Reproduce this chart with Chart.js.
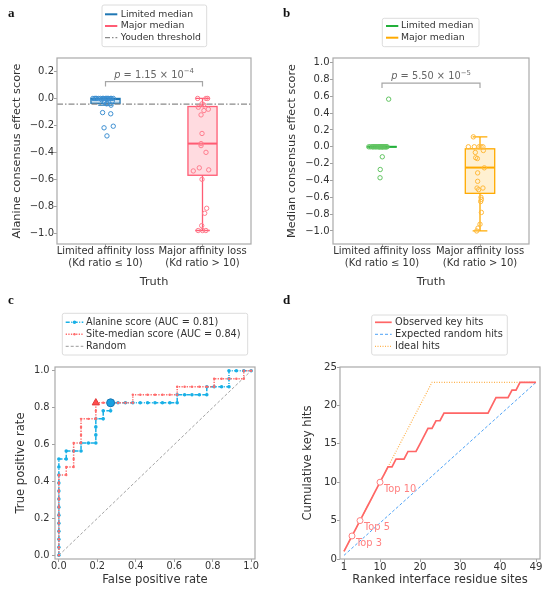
<!DOCTYPE html>
<html lang="en">
<head>
<meta charset="UTF-8">
<meta name="viewport" content="width=device-width, initial-scale=1.0">
<title>Consensus effect scores and key-site recovery</title>
<script src="https://cdn.jsdelivr.net/npm/chart.js@4.4.1/dist/chart.umd.min.js"></script>
<style>
  body { margin: 0; background: #fff; }
  #figure { position: relative; width: 550px; height: 596px; overflow: hidden; }
  #figure canvas { position: absolute; }
</style>
</head>
<body>
<div id="figure">
  <canvas id="panelA" width="275" height="298" style="left:0;top:0;width:275px;height:298px"></canvas>
  <canvas id="panelB" width="275" height="298" style="left:275px;top:0;width:275px;height:298px"></canvas>
  <canvas id="panelC" width="275" height="306" style="left:0;top:290px;width:275px;height:306px"></canvas>
  <canvas id="panelD" width="275" height="306" style="left:275px;top:290px;width:275px;height:306px"></canvas>
</div>
<script>
// ---------- data ----------
const groupLabels = [['Limited affinity loss', '(Kd ratio ≤ 10)'], ['Major affinity loss', '(Kd ratio > 10)']];

// a: alanine consensus effect score (jitter = horizontal offset of each dot)
const alaLimitedScore  = [0, 0, 0, 0, 0, 0, 0, 0, 0, 0, 0, 0, 0, 0, 0, -0.01, -0.02, -0.025, -0.035, -0.04, -0.05, -0.105, -0.114, -0.206, -0.218, -0.278];
const alaLimitedJitter = [-0.13, -0.11, -0.09, -0.07, -0.05, -0.03, -0.02, 0.0, 0.01, 0.02, 0.03, 0.05, 0.06, 0.08, -0.10, -0.04, 0.07, -0.012, 0.015, 0.012, 0.057, -0.03, 0.054, 0.08, -0.015, 0.015];
const alaMajorScore  = [0, 0, 0, -0.04, -0.048, -0.065, -0.08, -0.09, -0.122, -0.26, -0.335, -0.35, -0.40, -0.515, -0.53, -0.538, -0.60, -0.815, -0.852, -0.944, -0.98, -0.98, -0.98];
const alaMajorJitter = [-0.05, 0.036, 0.053, -0.005, 0.012, -0.043, 0.06, 0.015, -0.015, -0.005, -0.015, -0.015, 0.036, -0.033, 0.064, -0.095, -0.005, 0.043, 0.023, -0.008, -0.045, 0.0, 0.035];
// box stats: [lower whisker, q1, median, q3, upper whisker]
const alaLimitedBox = [-0.05, -0.036, -0.004, 0.0, 0.0];
const alaMajorBox   = [-0.98, -0.57, -0.335, -0.06, 0.0];
const youdenThreshold = -0.042;
const alaBracket = [0.088, 0.125];
const alaP = ['1.15', '−4'];
const alaTicks = [-1.0, -0.8, -0.6, -0.4, -0.2, 0.0, 0.2];

// b: median consensus effect score
const medLimitedScore  = [0, 0, 0, 0, 0, 0, 0, 0, 0, 0, 0, 0, 0, 0, 0, 0, 0, 0, 0, 0, 0, 0, 0.566, -0.119, -0.27, -0.368];
const medLimitedJitter = [-0.135, -0.118, -0.1, -0.092, -0.07, -0.061, -0.05, -0.038, -0.03, -0.02, -0.012, -0.004, 0.006, 0.012, 0.021, 0.03, 0.036, 0.044, 0.052, -0.082, -0.026, 0.002, 0.068, 0.003, -0.018, -0.02];
const medMajorScore  = [0.118, 0, 0, 0, 0, 0, -0.044, -0.067, -0.13, -0.14, -0.25, -0.31, -0.41, -0.49, -0.51, -0.49, -0.60, -0.625, -0.65, -0.78, -0.92, -0.966, -1.0];
const medMajorJitter = [-0.068, -0.119, -0.058, -0.01, 0.01, 0.03, 0.034, -0.048, -0.044, -0.027, 0.044, -0.024, -0.024, -0.03, -0.014, 0.03, 0.01, 0.014, 0.007, 0.014, 0.0, -0.02, -0.034];
const medLimitedBox = [0, 0, 0, 0, 0];
const medMajorBox   = [-1.0, -0.553, -0.247, -0.024, 0.118];
const medBracket = [0.698, 0.756];
const medP = ['5.50', '−5'];
const medTicks = [-1.0, -0.8, -0.6, -0.4, -0.2, 0.0, 0.2, 0.4, 0.6, 0.8, 1.0];

// c: ROC curves, as false-positive / true-positive counts at each threshold
const rocNegatives = 26, rocPositives = 23;
const alaFP = [0, 0, 0, 0, 0, 0, 0, 0, 0, 0, 0, 0, 0, 1, 1, 2, 3, 3, 4, 5, 5, 5, 5, 6, 6, 7, 7, 8, 9, 10, 11, 12, 13, 14, 15, 16, 16, 17, 18, 19, 20, 20, 21, 22, 23, 23, 23, 24, 25, 26];
const alaTP = [0, 1, 2, 3, 4, 5, 6, 7, 8, 9, 10, 11, 12, 12, 13, 13, 13, 14, 14, 14, 15, 16, 17, 17, 18, 18, 19, 19, 19, 19, 19, 19, 19, 19, 19, 19, 20, 20, 20, 20, 20, 21, 21, 21, 21, 22, 23, 23, 23, 23];
const siteFP = [0, 0, 0, 0, 0, 0, 0, 0, 0, 0, 0, 1, 1, 2, 2, 2, 2, 3, 3, 3, 3, 4, 5, 5, 5, 6, 7, 8, 9, 10, 10, 11, 12, 13, 14, 15, 16, 16, 17, 18, 19, 20, 21, 21, 22, 23, 24, 25, 25, 26];
const siteTP = [0, 1, 2, 3, 4, 5, 6, 7, 8, 9, 10, 10, 11, 11, 12, 13, 14, 14, 15, 16, 17, 17, 17, 18, 19, 19, 19, 19, 19, 19, 20, 20, 20, 20, 20, 20, 20, 21, 21, 21, 21, 21, 21, 22, 22, 22, 22, 22, 23, 23];
const alaYouden = [7, 19];   // fp, tp
const siteYouden = [5, 19];
const aucValues = [0.81, 0.84];
const randomLine = [[0, 0], [1, 1]];
const rocTicks = [0.0, 0.2, 0.4, 0.6, 0.8, 1.0];

// d: cumulative key hits over ranked interface residue sites
const ranks = [1, 2, 3, 4, 5, 6, 7, 8, 9, 10, 11, 12, 13, 14, 15, 16, 17, 18, 19, 20, 21, 22, 23, 24, 25, 26, 27, 28, 29, 30, 31, 32, 33, 34, 35, 36, 37, 38, 39, 40, 41, 42, 43, 44, 45, 46, 47, 48, 49];
const observedHits = [1, 2, 3, 4, 5, 6, 7, 8, 9, 10, 11, 12, 12, 13, 13, 13, 14, 14, 14, 15, 16, 17, 17, 18, 18, 19, 19, 19, 19, 19, 19, 19, 19, 19, 19, 19, 19, 20, 21, 21, 21, 21, 22, 22, 23, 23, 23, 23, 23];
const expectedLine = [[1, 0.47], [49, 23]];
const idealLine = [[1, 1], [23, 23], [49, 23]];
const topRanks = [3, 5, 10];
const rankTicks = [1, 10, 20, 30, 40, 49];
const hitTicks = [0, 5, 10, 15, 20, 25];

// ---------- colours ----------
const FONT = "'DejaVu Sans', 'Liberation Sans', sans-serif";
const blueEdge = '#1f77b4', blueDot = '#3d8fd1';
const redEdge = '#ff5c74', redDot = '#ff7d8e';
const greenEdge = '#22b03a', greenDot = '#62c462';
const orangeEdge = '#ffaa00', orangeDot = '#ffb93a';
const rocBlue = '#19b0e6', rocRed = '#ff6b6b';
const hitRed = '#ff6666', hitBlue = '#4ea2f5', hitOrange = '#ffb24d';

Chart.defaults.font.family = FONT;
Chart.defaults.color = '#333';
Chart.defaults.animation = false;
Chart.defaults.events = [];
Chart.defaults.plugins.legend.display = false;
Chart.defaults.plugins.tooltip.enabled = false;

// ---------- plugins ----------
const framePlugin = {
  id: 'frame',
  afterDatasetsDraw(chart) {
    const {ctx, chartArea: a} = chart;
    ctx.save();
    ctx.strokeStyle = '#aaaaaa';
    ctx.lineWidth = 1.2;
    ctx.strokeRect(a.left, a.top, a.right - a.left, a.bottom - a.top);
    ctx.restore();
  }
};

// box and whiskers, placed through the chart scales
const boxPlotPlugin = {
  id: 'boxPlot',
  beforeDatasetsDraw(chart, args, opts) {
    if (!opts.boxes) return;
    const {ctx, scales: {x, y}} = chart;
    opts.boxes.forEach(b => {
      const [lo, q1, med, q3, hi] = b.stats.map(v => y.getPixelForValue(v));
      const xl = x.getPixelForValue(b.pos - b.half), xr = x.getPixelForValue(b.pos + b.half);
      const xc = x.getPixelForValue(b.pos);
      const cl = x.getPixelForValue(b.pos - b.half / 2), cr = x.getPixelForValue(b.pos + b.half / 2);
      ctx.save();
      ctx.strokeStyle = b.edge;
      ctx.lineWidth = 1.3;
      ctx.beginPath();
      ctx.moveTo(xc, lo); ctx.lineTo(xc, q1);
      ctx.moveTo(xc, q3); ctx.lineTo(xc, hi);
      ctx.moveTo(cl, lo); ctx.lineTo(cr, lo);
      ctx.moveTo(cl, hi); ctx.lineTo(cr, hi);
      ctx.stroke();
      ctx.fillStyle = b.fill;
      ctx.fillRect(xl, q3, xr - xl, q1 - q3);
      ctx.strokeRect(xl, q3, xr - xl, q1 - q3);
      ctx.lineWidth = 2;
      ctx.beginPath(); ctx.moveTo(xl, med); ctx.lineTo(xr, med); ctx.stroke();
      ctx.restore();
    });
  }
};

// little text notes anchored to data values
const notesPlugin = {
  id: 'notes',
  afterDatasetsDraw(chart, args, opts) {
    if (!opts.items) return;
    const {ctx, scales: {x, y}} = chart;
    opts.items.forEach(n => {
      const px = x.getPixelForValue(n.x) + (n.dx || 0);
      const py = y.getPixelForValue(n.y) + (n.dy || 0);
      ctx.save();
      ctx.fillStyle = n.color;
      ctx.textBaseline = n.baseline || 'alphabetic';
      ctx.textAlign = 'left';
      const fonts = n.parts.map(p => (p.italic ? 'italic ' : '') + (p.sup ? n.size * 0.7 : n.size) + 'px ' + FONT);
      let total = 0;
      const widths = n.parts.map((p, i) => { ctx.font = fonts[i]; const w = ctx.measureText(p.text).width; total += w; return w; });
      let cx = n.align === 'center' ? px - total / 2 : px;
      n.parts.forEach((p, i) => {
        ctx.font = fonts[i];
        ctx.fillText(p.text, cx, p.sup ? py - n.size * 0.45 : py);
        cx += widths[i];
      });
      ctx.restore();
    });
  }
};

// matplotlib-style framed legend
const boxLegendPlugin = {
  id: 'boxLegend',
  afterDraw(chart, args, o) {
    if (!o.items) return;
    const ctx = chart.ctx;
    ctx.save();
    ctx.fillStyle = 'rgba(255,255,255,0.85)';
    ctx.strokeStyle = '#dcdcdc';
    ctx.lineWidth = 1;
    ctx.beginPath();
    if (ctx.roundRect) ctx.roundRect(o.left, o.top, o.width, o.height, 2);
    else ctx.rect(o.left, o.top, o.width, o.height);
    ctx.fill(); ctx.stroke();
    ctx.font = o.fontSize + 'px ' + FONT;
    ctx.textBaseline = 'middle';
    ctx.textAlign = 'left';
    o.items.forEach((it, i) => {
      const yy = o.firstRow + i * o.rowStep;
      ctx.strokeStyle = it.color;
      ctx.lineWidth = it.width;
      ctx.setLineDash(it.dash || []);
      ctx.beginPath(); ctx.moveTo(o.sampleX, yy); ctx.lineTo(o.sampleX + o.sampleLen, yy); ctx.stroke();
      ctx.setLineDash([]);
      if (it.marker) {
        ctx.fillStyle = it.color;
        ctx.beginPath(); ctx.arc(o.sampleX + o.sampleLen / 2, yy, it.marker, 0, Math.PI * 2); ctx.fill();
      }
      ctx.fillStyle = '#333';
      ctx.fillText(it.label, o.textX, yy);
    });
    ctx.restore();
  }
};

const letterPlugin = {
  id: 'letter',
  afterDraw(chart, args, o) {
    if (!o.text) return;
    const ctx = chart.ctx;
    ctx.save();
    ctx.font = "bold 13px 'Liberation Serif', serif";
    ctx.fillStyle = '#111';
    ctx.fillText(o.text, o.x, o.y);
    ctx.restore();
  }
};

Chart.register(framePlugin, boxPlotPlugin, notesPlugin, boxLegendPlugin, letterPlugin);

// ---------- helpers ----------
const fmt1 = v => (Math.abs(v) < 1e-9 ? 0 : v).toFixed(1).replace('-', '−');
const toPoints = (vals, jit, pos) => vals.map((v, i) => ({x: pos + jit[i], y: v}));
const pairs = arr => arr.map(p => ({x: p[0], y: p[1]}));

function leftAxis({min, max, ticks, fmt, title, width, titlePad, tickSize, pad, titleSize}) {
  return {
    type: 'linear', min, max,
    afterBuildTicks: s => { s.ticks = ticks.map(v => ({value: v})); },
    afterFit: s => { s.width = width; },
    ticks: {callback: fmt, font: {size: tickSize}, color: '#333', padding: pad, autoSkip: false},
    grid: {drawOnChartArea: false, drawTicks: true, tickLength: 3, color: '#888', tickWidth: 0.8},
    border: {display: false},
    title: {display: true, text: title, font: {size: titleSize}, color: '#333', padding: {top: titlePad, bottom: 0}}
  };
}

function bottomAxis({min, max, ticks, fmt, title, height, titlePad, tickSize, pad, titleSize, lineHeight}) {
  return {
    type: 'linear', min, max,
    afterBuildTicks: s => { s.ticks = ticks.map(v => ({value: v})); },
    afterFit: s => { s.height = height; },
    ticks: {callback: fmt, font: {size: tickSize, lineHeight: lineHeight || 1.2}, color: '#333', padding: pad, maxRotation: 0, autoSkip: false},
    grid: {drawOnChartArea: false, drawTicks: true, tickLength: 3, color: '#888', tickWidth: 0.8},
    border: {display: false},
    title: {display: true, text: title, font: {size: titleSize}, color: '#333', padding: {top: 0, bottom: titlePad}}
  };
}

function bracketData(b) {
  return [{x: 0, y: b[0]}, {x: 0, y: b[1]}, {x: 1, y: b[1]}, {x: 1, y: b[0]}];
}

function pNote(b, p) {
  return {x: 0.5, y: b[1], dy: -4, align: 'center', color: '#666', size: 9.8,
    parts: [{text: 'p', italic: true}, {text: ' = ' + p[0] + ' × 10'}, {text: p[1], sup: true}]};
}

const dots = (data, color) => ({data, pointRadius: 2.2, pointBorderWidth: 1, pointBorderColor: color, pointBackgroundColor: 'rgba(255,255,255,0)', showLine: false});

// ---------- a ----------
new Chart(document.getElementById('panelA'), {
  type: 'scatter',
  data: {
    datasets: [
      dots(toPoints(alaLimitedScore, alaLimitedJitter, 0), blueDot),
      dots(toPoints(alaMajorScore, alaMajorJitter, 1), redDot),
      {data: [{x: -0.5, y: youdenThreshold}, {x: 1.5, y: youdenThreshold}], showLine: true, pointRadius: 0, borderColor: '#8a8a8a', borderWidth: 1.1, borderDash: [6, 2, 1.5, 2]},
      {data: bracketData(alaBracket), showLine: true, pointRadius: 0, borderColor: '#a6a6a6', borderWidth: 1.2}
    ]
  },
  options: {
    responsive: false,
    layout: {padding: {top: 58, right: 24, bottom: 0, left: 0}},
    scales: {
      x: bottomAxis({min: -0.5, max: 1.5, ticks: [0, 1], fmt: v => groupLabels[v], title: 'Truth', height: 54, titlePad: 9.6, tickSize: 10, pad: -1.5, titleSize: 11.3}),
      y: leftAxis({min: -1.08, max: 0.3, ticks: alaTicks, fmt: fmt1, title: 'Alanine consensus effect score', width: 57, titlePad: 10, tickSize: 10, pad: 0, titleSize: 11.3})
    },
    plugins: {
      boxPlot: {boxes: [
        {pos: 0, half: 0.15, stats: alaLimitedBox, edge: blueEdge, fill: 'rgba(31,119,180,0.22)'},
        {pos: 1, half: 0.15, stats: alaMajorBox, edge: redEdge, fill: 'rgba(255,92,116,0.22)'}
      ]},
      notes: {items: [pNote(alaBracket, alaP)]},
      boxLegend: {left: 102, top: 5, width: 104.7, height: 41.7, firstRow: 14.3, rowStep: 11.7, sampleX: 105, sampleLen: 12.3, textX: 120.7, fontSize: 9.3,
        items: [
          {label: 'Limited median', color: blueEdge, width: 2},
          {label: 'Major median', color: redEdge, width: 2},
          {label: 'Youden threshold', color: '#8a8a8a', width: 1.2, dash: [5, 2, 1.5, 2]}
        ]},
      letter: {text: 'a', x: 8, y: 16.5}
    }
  }
});

// ---------- b ----------
new Chart(document.getElementById('panelB'), {
  type: 'scatter',
  data: {
    datasets: [
      dots(toPoints(medLimitedScore, medLimitedJitter, 0), greenDot),
      dots(toPoints(medMajorScore, medMajorJitter, 1), orangeDot),
      {data: bracketData(medBracket), showLine: true, pointRadius: 0, borderColor: '#a6a6a6', borderWidth: 1.2}
    ]
  },
  options: {
    responsive: false,
    layout: {padding: {top: 58, right: 21, bottom: 0, left: 0}},
    scales: {
      x: bottomAxis({min: -0.5, max: 1.5, ticks: [0, 1], fmt: v => groupLabels[v], title: 'Truth', height: 54, titlePad: 9.6, tickSize: 10, pad: -1.5, titleSize: 11.3}),
      y: leftAxis({min: -1.155, max: 1.055, ticks: medTicks, fmt: fmt1, title: 'Median consensus effect score', width: 58, titlePad: 10, tickSize: 10, pad: 0.5, titleSize: 11.3})
    },
    plugins: {
      boxPlot: {boxes: [
        {pos: 0, half: 0.15, stats: medLimitedBox, edge: greenEdge, fill: 'rgba(34,176,58,0.2)'},
        {pos: 1, half: 0.15, stats: medMajorBox, edge: orangeEdge, fill: 'rgba(255,170,0,0.18)'}
      ]},
      notes: {items: [pNote(medBracket, medP)]},
      boxLegend: {left: 107.3, top: 18.3, width: 96.7, height: 28.4, firstRow: 26, rowStep: 11.7, sampleX: 111, sampleLen: 12.3, textX: 126, fontSize: 9.3,
        items: [
          {label: 'Limited median', color: greenEdge, width: 2},
          {label: 'Major median', color: orangeEdge, width: 2}
        ]},
      letter: {text: 'b', x: 8, y: 16.5}
    }
  }
});

// ---------- c ----------
const rocPoints = (fp, tp) => fp.map((f, i) => ({x: f / rocNegatives, y: tp[i] / rocPositives}));
new Chart(document.getElementById('panelC'), {
  type: 'scatter',
  data: {
    datasets: [
      {data: [{x: alaYouden[0] / rocNegatives, y: alaYouden[1] / rocPositives}], pointRadius: 4, pointBackgroundColor: '#1a9fe0', pointBorderColor: '#1777b3', pointBorderWidth: 1},
      {data: [{x: siteYouden[0] / rocNegatives, y: siteYouden[1] / rocPositives}], pointStyle: 'triangle', pointRadius: 4.2, pointBackgroundColor: '#ff4d4d', pointBorderColor: '#e03a3a', pointBorderWidth: 1},
      {data: rocPoints(siteFP, siteTP), showLine: true, borderColor: rocRed, borderWidth: 1.5, borderDash: [1.3, 1.3], pointRadius: 1.2, pointBorderWidth: 0, pointBackgroundColor: rocRed},
      {data: rocPoints(alaFP, alaTP), showLine: true, borderColor: rocBlue, borderWidth: 1.5, borderDash: [4, 1.5, 1, 1.5], pointRadius: 1.8, pointBorderWidth: 0, pointBackgroundColor: rocBlue},
      {data: pairs(randomLine), showLine: true, borderColor: '#999', borderWidth: 0.9, borderDash: [3, 2], pointRadius: 0}
    ]
  },
  options: {
    responsive: false,
    layout: {padding: {top: 77, right: 20, bottom: 0, left: 0}},
    scales: {
      x: bottomAxis({min: -0.02, max: 1.02, ticks: rocTicks, fmt: fmt1, title: 'False positive rate', height: 37, titlePad: 8.6, tickSize: 9.8, pad: -1, titleSize: 11.6}),
      y: leftAxis({min: -0.02, max: 1.02, ticks: rocTicks, fmt: fmt1, title: 'True positive rate', width: 55, titlePad: 14, tickSize: 9.8, pad: 2.5, titleSize: 11.6})
    },
    plugins: {
      boxLegend: {left: 62.3, top: 23.3, width: 185.4, height: 41.7, firstRow: 32.3, rowStep: 12, sampleX: 65.7, sampleLen: 17.6, textX: 86, fontSize: 9.7,
        items: [
          {label: 'Alanine score (AUC = ' + aucValues[0].toFixed(2) + ')', color: rocBlue, width: 1.5, dash: [4, 1.5, 1, 1.5], marker: 1.8},
          {label: 'Site-median score (AUC = ' + aucValues[1].toFixed(2) + ')', color: rocRed, width: 1.5, dash: [1.3, 1.3], marker: 1.2},
          {label: 'Random', color: '#999', width: 1, dash: [3, 2]}
        ]},
      letter: {text: 'c', x: 8, y: 14}
    }
  }
});

// ---------- d ----------
new Chart(document.getElementById('panelD'), {
  type: 'scatter',
  data: {
    datasets: [
      {data: topRanks.map(r => ({x: r, y: observedHits[r - 1]})), pointRadius: 3, pointBorderWidth: 1, pointBorderColor: '#ff8080', pointBackgroundColor: '#fff'},
      {data: ranks.map((r, i) => ({x: r, y: observedHits[i]})), showLine: true, borderColor: hitRed, borderWidth: 1.7, pointRadius: 0},
      {data: pairs(expectedLine), showLine: true, borderColor: hitBlue, borderWidth: 1, borderDash: [3, 2], pointRadius: 0},
      {data: pairs(idealLine), showLine: true, borderColor: hitOrange, borderWidth: 1.2, borderDash: [1, 1.5], pointRadius: 0}
    ]
  },
  options: {
    responsive: false,
    layout: {padding: {top: 77, right: 10, bottom: 0, left: 0}},
    scales: {
      x: bottomAxis({min: 0, max: 50, ticks: rankTicks, fmt: v => String(v), title: 'Ranked interface residue sites', height: 37, titlePad: 8.6, tickSize: 10.2, pad: -1, titleSize: 11.6}),
      y: leftAxis({min: 0, max: 25, ticks: hitTicks, fmt: v => String(v), title: 'Cumulative key hits', width: 65, titlePad: 26, tickSize: 10.2, pad: 0, titleSize: 11.6})
    },
    plugins: {
      notes: {items: topRanks.map(r => ({x: r, y: observedHits[r - 1], dx: 4, dy: 7, baseline: 'middle', color: '#ff8080', size: 9.8, parts: [{text: 'Top ' + r}]}))},
      boxLegend: {left: 96.7, top: 25, width: 135.6, height: 40, firstRow: 32.3, rowStep: 12, sampleX: 100, sampleLen: 16.7, textX: 120, fontSize: 9.8,
        items: [
          {label: 'Observed key hits', color: hitRed, width: 1.7},
          {label: 'Expected random hits', color: hitBlue, width: 1, dash: [3, 2]},
          {label: 'Ideal hits', color: hitOrange, width: 1.2, dash: [1, 1.5]}
        ]},
      letter: {text: 'd', x: 8, y: 14}
    }
  }
});
</script>
</body>
</html>
